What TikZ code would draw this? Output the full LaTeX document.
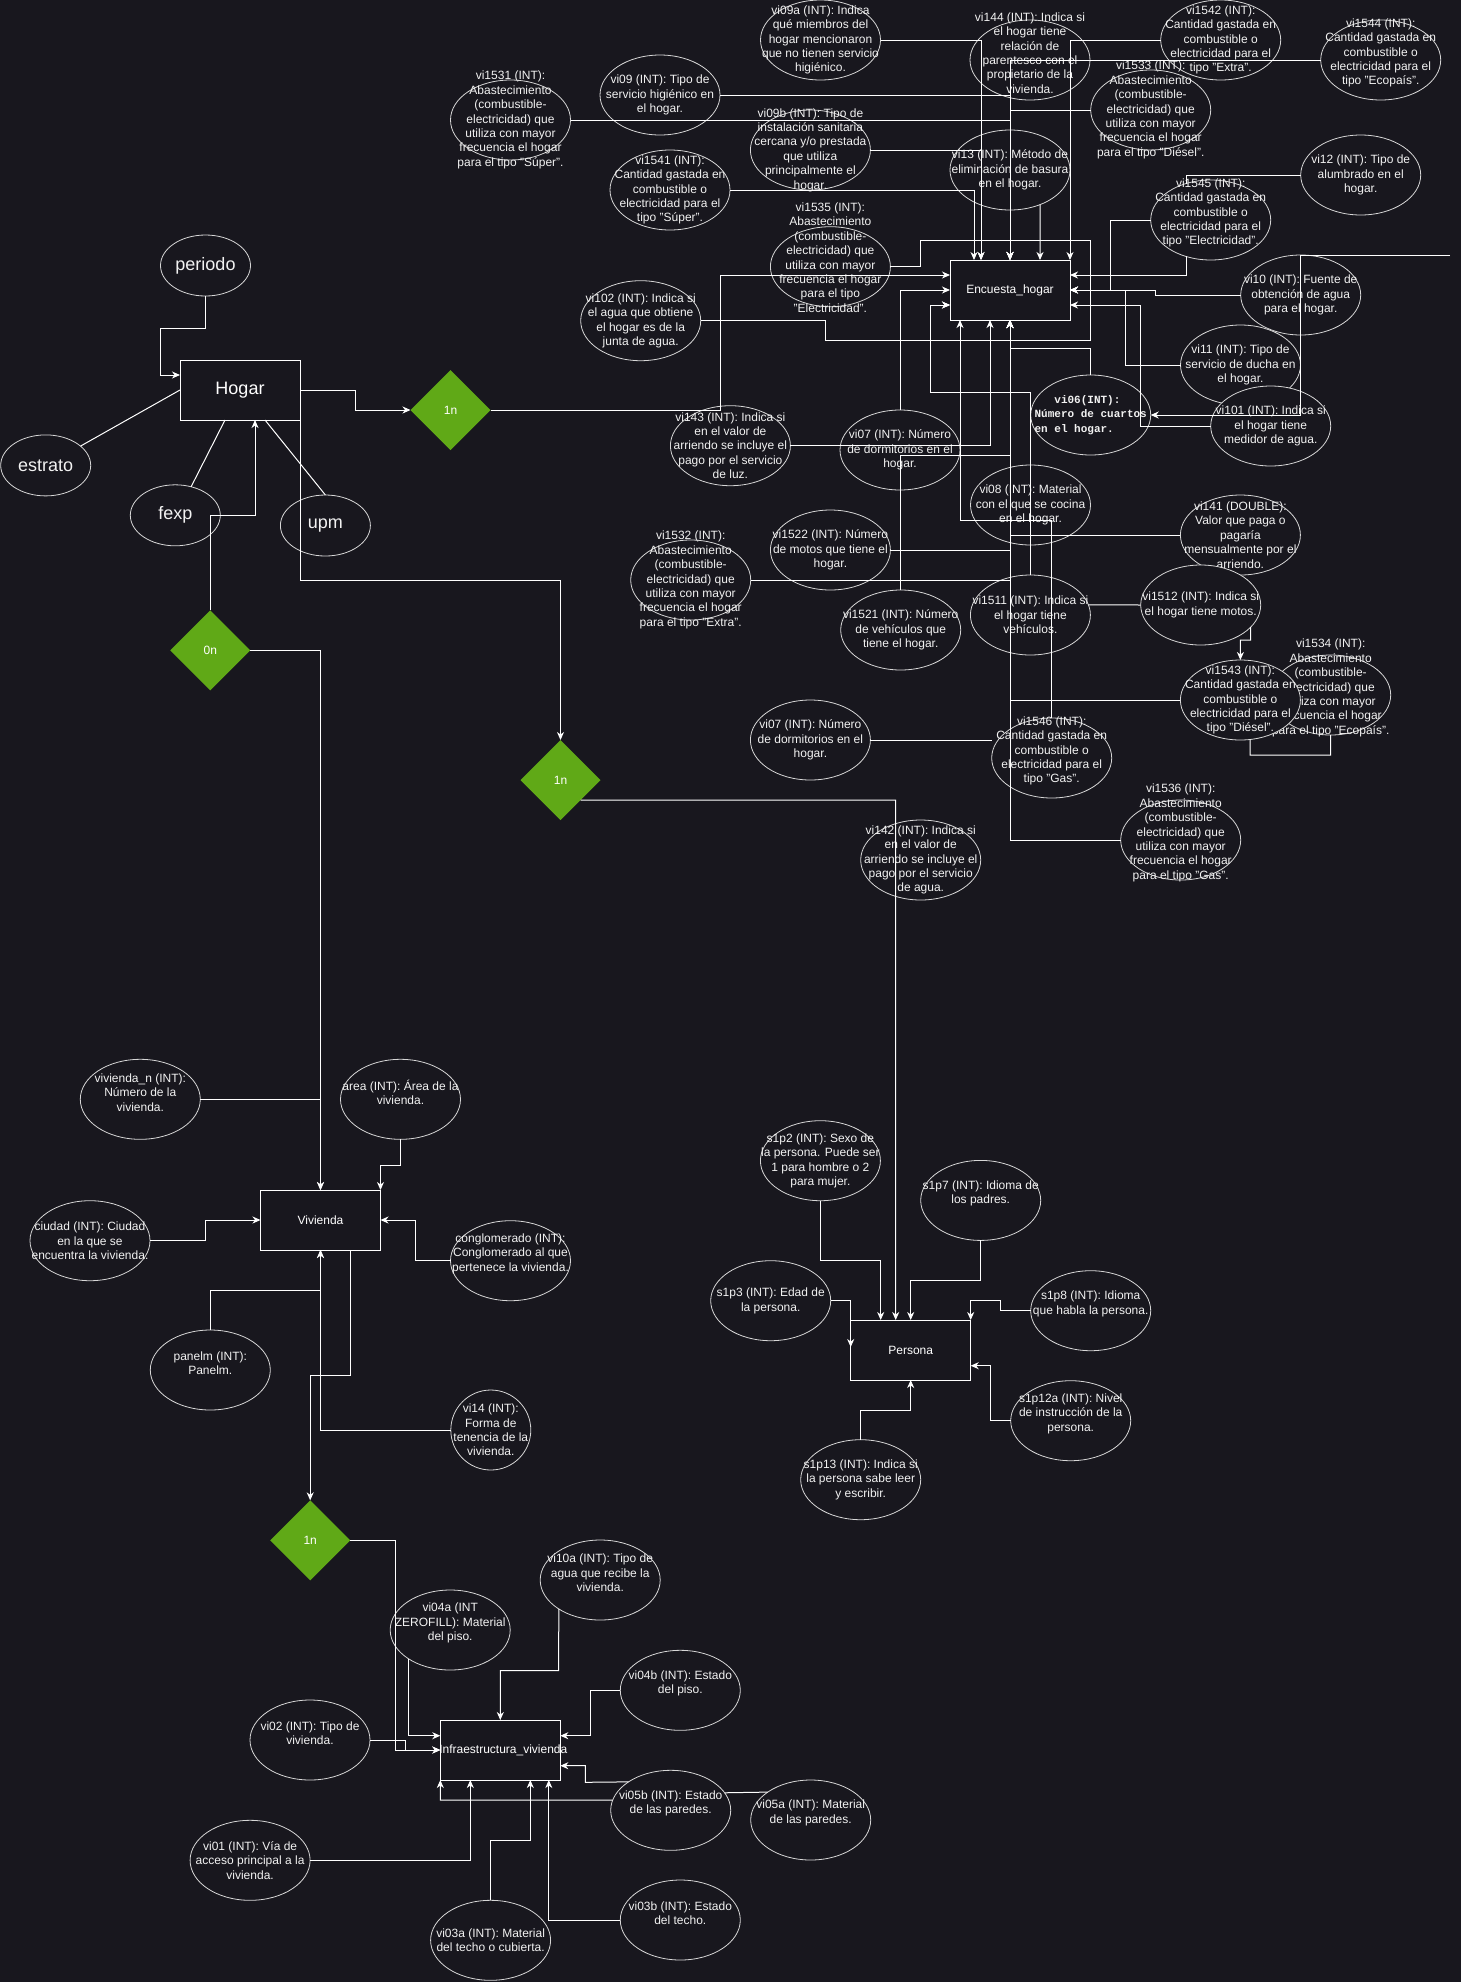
\documentclass[tikz,border=0pt]{standalone}
\usepackage{fontspec}
\setmainfont{Liberation Sans}
\newfontfamily\monob{Liberation Mono}
\usetikzlibrary{shapes.geometric,arrows.meta}
\definecolor{bg}{RGB}{24,23,30}
\definecolor{ink}{RGB}{242,242,242}
\definecolor{outline}{RGB}{215,215,215}
\definecolor{relgreen}{HTML}{60A917}
% attribute: ellipse drawn empty, its text set on top so long texts may overflow
\newcommand\attrnode[5][]{%
  \node[attrib,#1] (#2) at (#3) {};
  \node[lbl,#4] at (#2.center) {#5};}
\begin{document}
\begin{tikzpicture}[x=1pt,y=-1pt,
  edge/.style={draw=white,line width=1pt},
  arr/.style={edge,-{Stealth[length=8pt,width=7pt,inset=2.5pt]}},
  attrib/.style={ellipse,draw=outline,fill=bg,line width=0.8pt,minimum width=120pt,minimum height=80pt,inner sep=0pt,outer sep=0pt},
  small/.style={minimum width=90pt,minimum height=61pt},
  lbl/.style={text=ink,align=center,inner sep=0pt,font=\fontsize{12}{14.4}\selectfont},
  up/.style={yshift=7pt},
  big/.style={font=\fontsize{18}{21.6}\selectfont},
  mono/.style={align=left,font=\monob\bfseries\fontsize{11}{14.3}\selectfont},
  entity/.style={rectangle,draw=white,fill=bg,line width=1pt,minimum width=120pt,minimum height=60pt,inner sep=0pt,outer sep=0pt},
  rel/.style={diamond,fill=relgreen,minimum width=80pt,minimum height=80pt,inner sep=0pt,outer sep=0pt,text=white,font=\fontsize{12}{14.4}\selectfont},
]
\useasboundingbox (0,0) rectangle (1461,1982);
\fill[bg] (0,0) rectangle (1461,1982);

% ---------- Hogar attributes ----------
\attrnode[small]{periodo}{205.5,265.5}{big}{periodo}
\attrnode[small]{estrato}{45.7,465.4}{big}{estrato}
\attrnode[small]{fexp}{175.3,515.3}{big}{fexp}
\attrnode[small]{upm}{325.4,525.5}{big}{upm}

% ---------- Encuesta_hogar attributes ----------
\attrnode{vi09a}{820.5,40}{}{vi09a (INT): Indica\\qué miembros del\\hogar mencionaron\\que no tienen servicio\\higiénico.}
\attrnode{vi144}{1030,60}{up}{vi144 (INT): Indica si\\el hogar tiene\\relación de\\parentesco con el\\propietario de la\\vivienda.}
\attrnode{vi1542}{1220.7,40}{}{vi1542 (INT):\\Cantidad gastada en\\combustible o\\electricidad para el\\tipo "Extra".}
\attrnode{vi1544}{1380.7,60}{up}{vi1544 (INT):\\Cantidad gastada en\\combustible o\\electricidad para el\\tipo "Ecopaís".}
\attrnode{vi09}{660,95}{}{vi09 (INT): Tipo de\\servicio higiénico en\\el hogar.}
\attrnode{vi1531}{510.5,120}{}{vi1531 (INT):\\Abastecimiento\\(combustible-\\electricidad) que\\utiliza con mayor\\frecuencia el hogar\\para el tipo "Súper".}
\attrnode{vi1533}{1150.7,110}{}{vi1533 (INT):\\Abastecimiento\\(combustible-\\electricidad) que\\utiliza con mayor\\frecuencia el hogar\\para el tipo "Diésel".}
\attrnode{vi09b}{810.4,150}{}{vi09b (INT): Tipo de\\instalación sanitaria\\cercana y/o prestada\\que utiliza\\principalmente el\\hogar.}
\attrnode{vi13}{1010,170}{}{vi13 (INT): Método de\\eliminación de basura\\en el hogar.}
\attrnode{vi12}{1360.7,175}{}{vi12 (INT): Tipo de\\alumbrado en el\\hogar.}
\attrnode{vi1541}{670,190}{}{vi1541 (INT):\\Cantidad gastada en\\combustible o\\electricidad para el\\tipo "Súper".}
\attrnode{vi1545}{1210.7,220}{up}{vi1545 (INT):\\Cantidad gastada en\\combustible o\\electricidad para el\\tipo "Electricidad".}
\attrnode{vi1535}{830.4,266.7}{yshift=9pt}{vi1535 (INT):\\Abastecimiento\\(combustible-\\electricidad) que\\utiliza con mayor\\frecuencia el hogar\\para el tipo\\"Electricidad".}
\attrnode{vi10}{1300.7,295}{}{vi10 (INT): Fuente de\\obtención de agua\\para el hogar.}
\attrnode{vi102}{640.7,320.7}{}{vi102 (INT): Indica si\\el agua que obtiene\\el hogar es de la\\junta de agua.}
\attrnode{vi11}{1240.5,365}{}{vi11 (INT): Tipo de\\servicio de ducha en\\el hogar.}
\attrnode{vi06}{1090.7,415}{mono}{\phantom{xxx}vi06(INT):\\Número de cuartos\\en el hogar.}
\attrnode{vi101}{1270.7,426}{}{vi101 (INT): Indica si\\el hogar tiene\\medidor de agua.}
\attrnode{vi143}{730.4,445.7}{}{vi143 (INT): Indica si\\en el valor de\\arriendo se incluye el\\pago por el servicio\\de luz.}
\attrnode{vi07a}{900,450}{}{vi07 (INT): Número\\de dormitorios en el\\hogar.}
\attrnode{vi08}{1030.5,505}{}{vi08 (INT): Material\\con el que se cocina\\en el hogar.}
\attrnode{vi141}{1240.4,535}{}{vi141 (DOUBLE):\\Valor que paga o\\pagaría\\mensualmente por el\\arriendo.}
\attrnode{vi1522}{830.4,550}{}{vi1522 (INT): Número\\de motos que tiene el\\hogar.}
\attrnode{vi1532}{690.7,580}{}{vi1532 (INT):\\Abastecimiento\\(combustible-\\electricidad) que\\utiliza con mayor\\frecuencia el hogar\\para el tipo "Extra".}
\attrnode{vi1512}{1200.7,605}{}{vi1512 (INT): Indica si\\el hogar tiene motos.}
\attrnode{vi1511}{1030.4,615}{}{vi1511 (INT): Indica si\\el hogar tiene\\vehículos.}
\attrnode{vi1521}{900.7,630}{}{vi1521 (INT): Número\\de vehículos que\\tiene el hogar.}
\attrnode{vi1534}{1330.7,695}{up}{vi1534 (INT):\\Abastecimiento\\(combustible-\\electricidad) que\\utiliza con mayor\\frecuencia el hogar\\para el tipo "Ecopaís".}
\attrnode{vi1543}{1240.4,700}{}{vi1543 (INT):\\Cantidad gastada en\\combustible o\\electricidad para el\\tipo "Diésel".}
\attrnode{vi07b}{810.4,740}{}{vi07 (INT): Número\\de dormitorios en el\\hogar.}
\attrnode{vi1546}{1051.7,758}{up}{vi1546 (INT):\\Cantidad gastada en\\combustible o\\electricidad para el\\tipo "Gas".}
\attrnode{vi1536}{1180.7,840}{up}{vi1536 (INT):\\Abastecimiento\\(combustible-\\electricidad) que\\utiliza con mayor\\frecuencia el hogar\\para el tipo "Gas".}
\attrnode{vi142}{920.7,860}{}{vi142 (INT): Indica si\\en el valor de\\arriendo se incluye el\\pago por el servicio\\de agua.}

% ---------- Vivienda attributes ----------
\attrnode{vn}{140.3,1099.3}{up}{vivienda\_n (INT):\\Número de la\\vivienda.}
\attrnode{area}{400.5,1099.3}{up}{area (INT): Área de la\\vivienda.}
\attrnode{ciudad}{90,1240.7}{}{ciudad (INT): Ciudad\\en la que se\\encuentra la vivienda.}
\attrnode{cong}{510.5,1260.7}{up}{conglomerado (INT):\\Conglomerado al que\\pertenece la vivienda.}
\attrnode{panelm}{210.3,1370}{up}{panelm (INT):\\Panelm.}
\attrnode[minimum width=80pt]{vi14}{490.8,1430}{}{vi14 (INT):\\Forma de\\tenencia de la\\vivienda.}

% ---------- Persona attributes ----------
\attrnode{s1p2}{820.4,1160.7}{}{s1p2 (INT): Sexo de\\la persona. Puede ser\\1 para hombre o 2\\para mujer.}
\attrnode{s1p7}{980.7,1200.4}{up}{s1p7 (INT): Idioma de\\los padres.}
\attrnode{s1p3}{770.7,1300.7}{}{s1p3 (INT): Edad de\\la persona.}
\attrnode{s1p8}{1090.7,1310.7}{up}{s1p8 (INT): Idioma\\que habla la persona.}
\attrnode{s1p12a}{1070.7,1420.7}{up}{s1p12a (INT): Nivel\\de instrucción de la\\persona.}
\attrnode{s1p13}{860.7,1479.7}{}{s1p13 (INT): Indica si\\la persona sabe leer\\y escribir.}

% ---------- Infraestructura_vivienda attributes ----------
\attrnode{vi10a}{600.2,1580}{up}{vi10a (INT): Tipo de\\agua que recibe la\\vivienda.}
\attrnode{vi04a}{450.2,1630}{up}{vi04a (INT\\ZEROFILL): Material\\del piso.}
\attrnode{vi04b}{680.3,1690.3}{up}{vi04b (INT): Estado\\del piso.}
\attrnode{vi02}{310,1740}{up}{vi02 (INT): Tipo de\\vivienda.}
\attrnode{vi05a}{810.7,1820}{up}{vi05a (INT): Material\\de las paredes.}
\attrnode{vi05b}{670.7,1810.3}{up}{vi05b (INT): Estado\\de las paredes.}
\attrnode{vi01}{250.1,1860.3}{}{vi01 (INT): Vía de\\acceso principal a la\\vivienda.}
\attrnode{vi03b}{680.3,1920}{up}{vi03b (INT): Estado\\del techo.}
\attrnode{vi03a}{490.6,1940.3}{}{vi03a (INT): Material\\del techo o cubierta.}

% ---------- entities ----------
\node[entity] (Hogar) at (240,390) {};
\node[lbl,big,text=white] at (Hogar) {Hogar};
\node[entity] (Enc) at (1010,290) {};
\node[lbl,text=white] at (Enc) {Encuesta\_hogar};
\node[entity] (Viv) at (320.5,1220) {};
\node[lbl,text=white] at (Viv) {Vivienda};
\node[entity] (Per) at (910.7,1350) {};
\node[lbl,text=white] at (Per) {Persona};
\node[entity] (Inf) at (500.3,1750) {};
\node[lbl,text=white] at ([xshift=3pt]Inf.center) {Infraestructura\_vivienda};

% ---------- relationships ----------
\node[rel] (d1a) at (450.5,410) {1n};
\node[rel] (d0n) at (210.3,650.3) {0n};
\node[rel] (d1b) at (560.5,780) {1n};
\node[rel] (d1c) at (310.2,1540.3) {1n};

% ---------- Hogar connectors ----------
\draw[arr] (periodo.south) -- (205.5,328) -- (160,328) |- ([yshift=15pt]Hogar.west);
\draw[edge] (estrato.29) -- (Hogar.west);
\draw[edge] (fexp.61.5) -- ([xshift=-15pt]Hogar.south);
\draw[edge] (upm.north) -- ([xshift=25pt]Hogar.south);
\draw[arr] (Hogar.east) -- (355.5,390) |- (d1a.west);
\draw[arr] (d0n.north) -- (210.3,515.7) -| ([xshift=15pt]Hogar.south);
\draw[arr] (Hogar.south east) -- (300,580.3) -| (d1b.north);

% ---------- Encuesta_hogar connectors ----------
\draw[arr] (d1a.east) -- (720.7,410) |- ([yshift=15pt]Enc.west);
\draw[arr] (vi07a.north) |- (Enc.west);
\draw[arr] (vi1511.north) -- (1030.4,392.5) -- (930,392.5) |- ([yshift=-15pt]Enc.west);
\draw[arr] (vi08.north) -- (1030.5,392.5) -- (930,392.5) |- ([yshift=-15pt]Enc.west);

\draw[arr] (vi1541.east) -| ([xshift=-36pt]Enc.north);
\draw[arr] (vi09a.east) -| ([xshift=-29pt]Enc.north);
\draw[arr] (vi09b.east) -| ([xshift=-29pt]Enc.north);
\draw[arr] (vi09.east) -| (Enc.north);
\draw[arr] (vi1531.east) -| (Enc.north);
\draw[arr] (vi1533.west) -| (Enc.north);
\draw[arr] (vi1544.west) -| (Enc.north);
\draw[arr] (Enc.north |- vi144.south) -- (Enc.north);
\draw[arr] (vi13.-49) -- ([xshift=30pt]Enc.north);
\draw[arr] (vi1542.west) -| (Enc.north east);

\draw[arr] (vi1545.-124.5) |- ([yshift=15pt]Enc.east);
\draw[edge] (vi12.west) -| (vi1545.124.5);
\draw[arr] (vi1545.west) -- (1110.7,220) |- (Enc.east);
\draw[arr] (vi10.west) -- (1155.7,295) |- (Enc.east);
\draw[arr] (vi11.west) -- (1125.7,365) |- (Enc.east);
\draw[arr] (vi101.west) -- (1140.7,426) |- ([yshift=-15pt]Enc.east);

\draw[arr] (vi06.north) -- (1090.7,348) -| (Enc.south);
\draw[arr] (vi143.east) -| ([xshift=-20pt]Enc.south);
\draw[arr] (vi1521.north) -- (900.7,455) -| (Enc.south);
\draw[arr] (vi141.west) -| (Enc.south);
\draw[arr] (vi1522.east) -| (Enc.south);
\draw[arr] (vi1532.east) -| (Enc.south);
\draw[arr] (vi1543.west) -| (Enc.south);
\draw[arr] (vi1536.west) -| (Enc.south);
\draw[arr] (vi1546.north) -- (1051.7,520.4) -| ([xshift=-50pt]Enc.south);

\draw[edge] (vi102.east) -- (825.7,320.7) -- (825.7,340) -- (1090.7,340) -- (1090.7,240.7) -- (920.7,240.7) |- (vi1535.east);
\coordinate (loose) at (1450,255.7);
\draw[arr] (loose) -- (1300.7,255.7) |- (vi06.east);
\draw[edge] (vi1512.west) -- (vi1511.10);
\draw[arr] (vi1512.-24) -- (1250.6,640) -| (vi1543.north);
\draw[edge] (vi1543.-76) -- (1250.2,755) -| (vi1534.south);
\draw[edge] (vi07b.east) -- (vi07b.east -| vi1546.west);

% ---------- Persona connectors ----------
\draw[arr] (d1b.-45) -- (895.7,800) -- ([xshift=-15pt]Per.north);
\draw[arr] (s1p2.south) -- (820.4,1260) -| ([xshift=-30pt]Per.north);
\draw[arr] (s1p7.south) -- (980.7,1280) -| (Per.north);
\draw[arr] (s1p3.east) -| ([yshift=3pt]Per.west);
\draw[arr] (s1p8.west) -- (1000.7,1310.7) -- (1000.7,1300) -| (Per.north east);
\draw[arr] (s1p12a.west) -- (990.7,1420.7) |- ([yshift=-15.7pt]Per.east);
\draw[arr] (s1p13.north) -- (860.7,1410) -| (Per.south);

% ---------- Vivienda connectors ----------
\draw[arr] (d0n.east) -| (Viv.north);
\draw[arr] (vn.east) -| (Viv.north);
\draw[arr] (area.south) -- (400.5,1165) -| (Viv.north east);
\draw[arr] (ciudad.east) -- (205.5,1240.7) |- (Viv.west);
\draw[arr] (cong.west) -- (415.6,1260.7) |- (Viv.east);
\draw[arr] (panelm.north) -- (210.3,1290) -| (Viv.south);
\draw[arr] (vi14.west) -| (Viv.south);
\draw[arr] ([xshift=30pt]Viv.south) -- (350.5,1375) -| (d1c.north);

% ---------- Infraestructura_vivienda connectors ----------
\draw[arr] (d1c.east) -- (395.4,1540.3) |- (Inf.west);
\draw[arr] (vi02.east) -- (405.8,1740) |- (Inf.west);
\draw[arr] (vi04a.-145) |- ([yshift=14.3pt]Inf.west);
\draw[arr] (vi10a.-145.5) -- (558.6,1670.7) -| (Inf.north);
\draw[arr] (vi04b.west) -- (590.3,1690.3) |- ([yshift=14.3pt]Inf.east);
\draw[arr] (vi05b.146.8) -- (585.3,1782.3) |- ([yshift=-15.7pt]Inf.east);
\draw[edge] (vi05a.147.4) -- (vi05b.18.6);
\draw[arr] (vi05b.170) -- (440.3,1800) -- (Inf.south west);
\draw[arr] (vi01.east) -| ([xshift=-30pt]Inf.south);
\draw[arr] (vi03a.north) -- (490.6,1840) -| ([xshift=30pt]Inf.south);
\draw[arr] (vi03b.west) -| ([xshift=48.5pt]Inf.south);
\end{tikzpicture}
\end{document}
